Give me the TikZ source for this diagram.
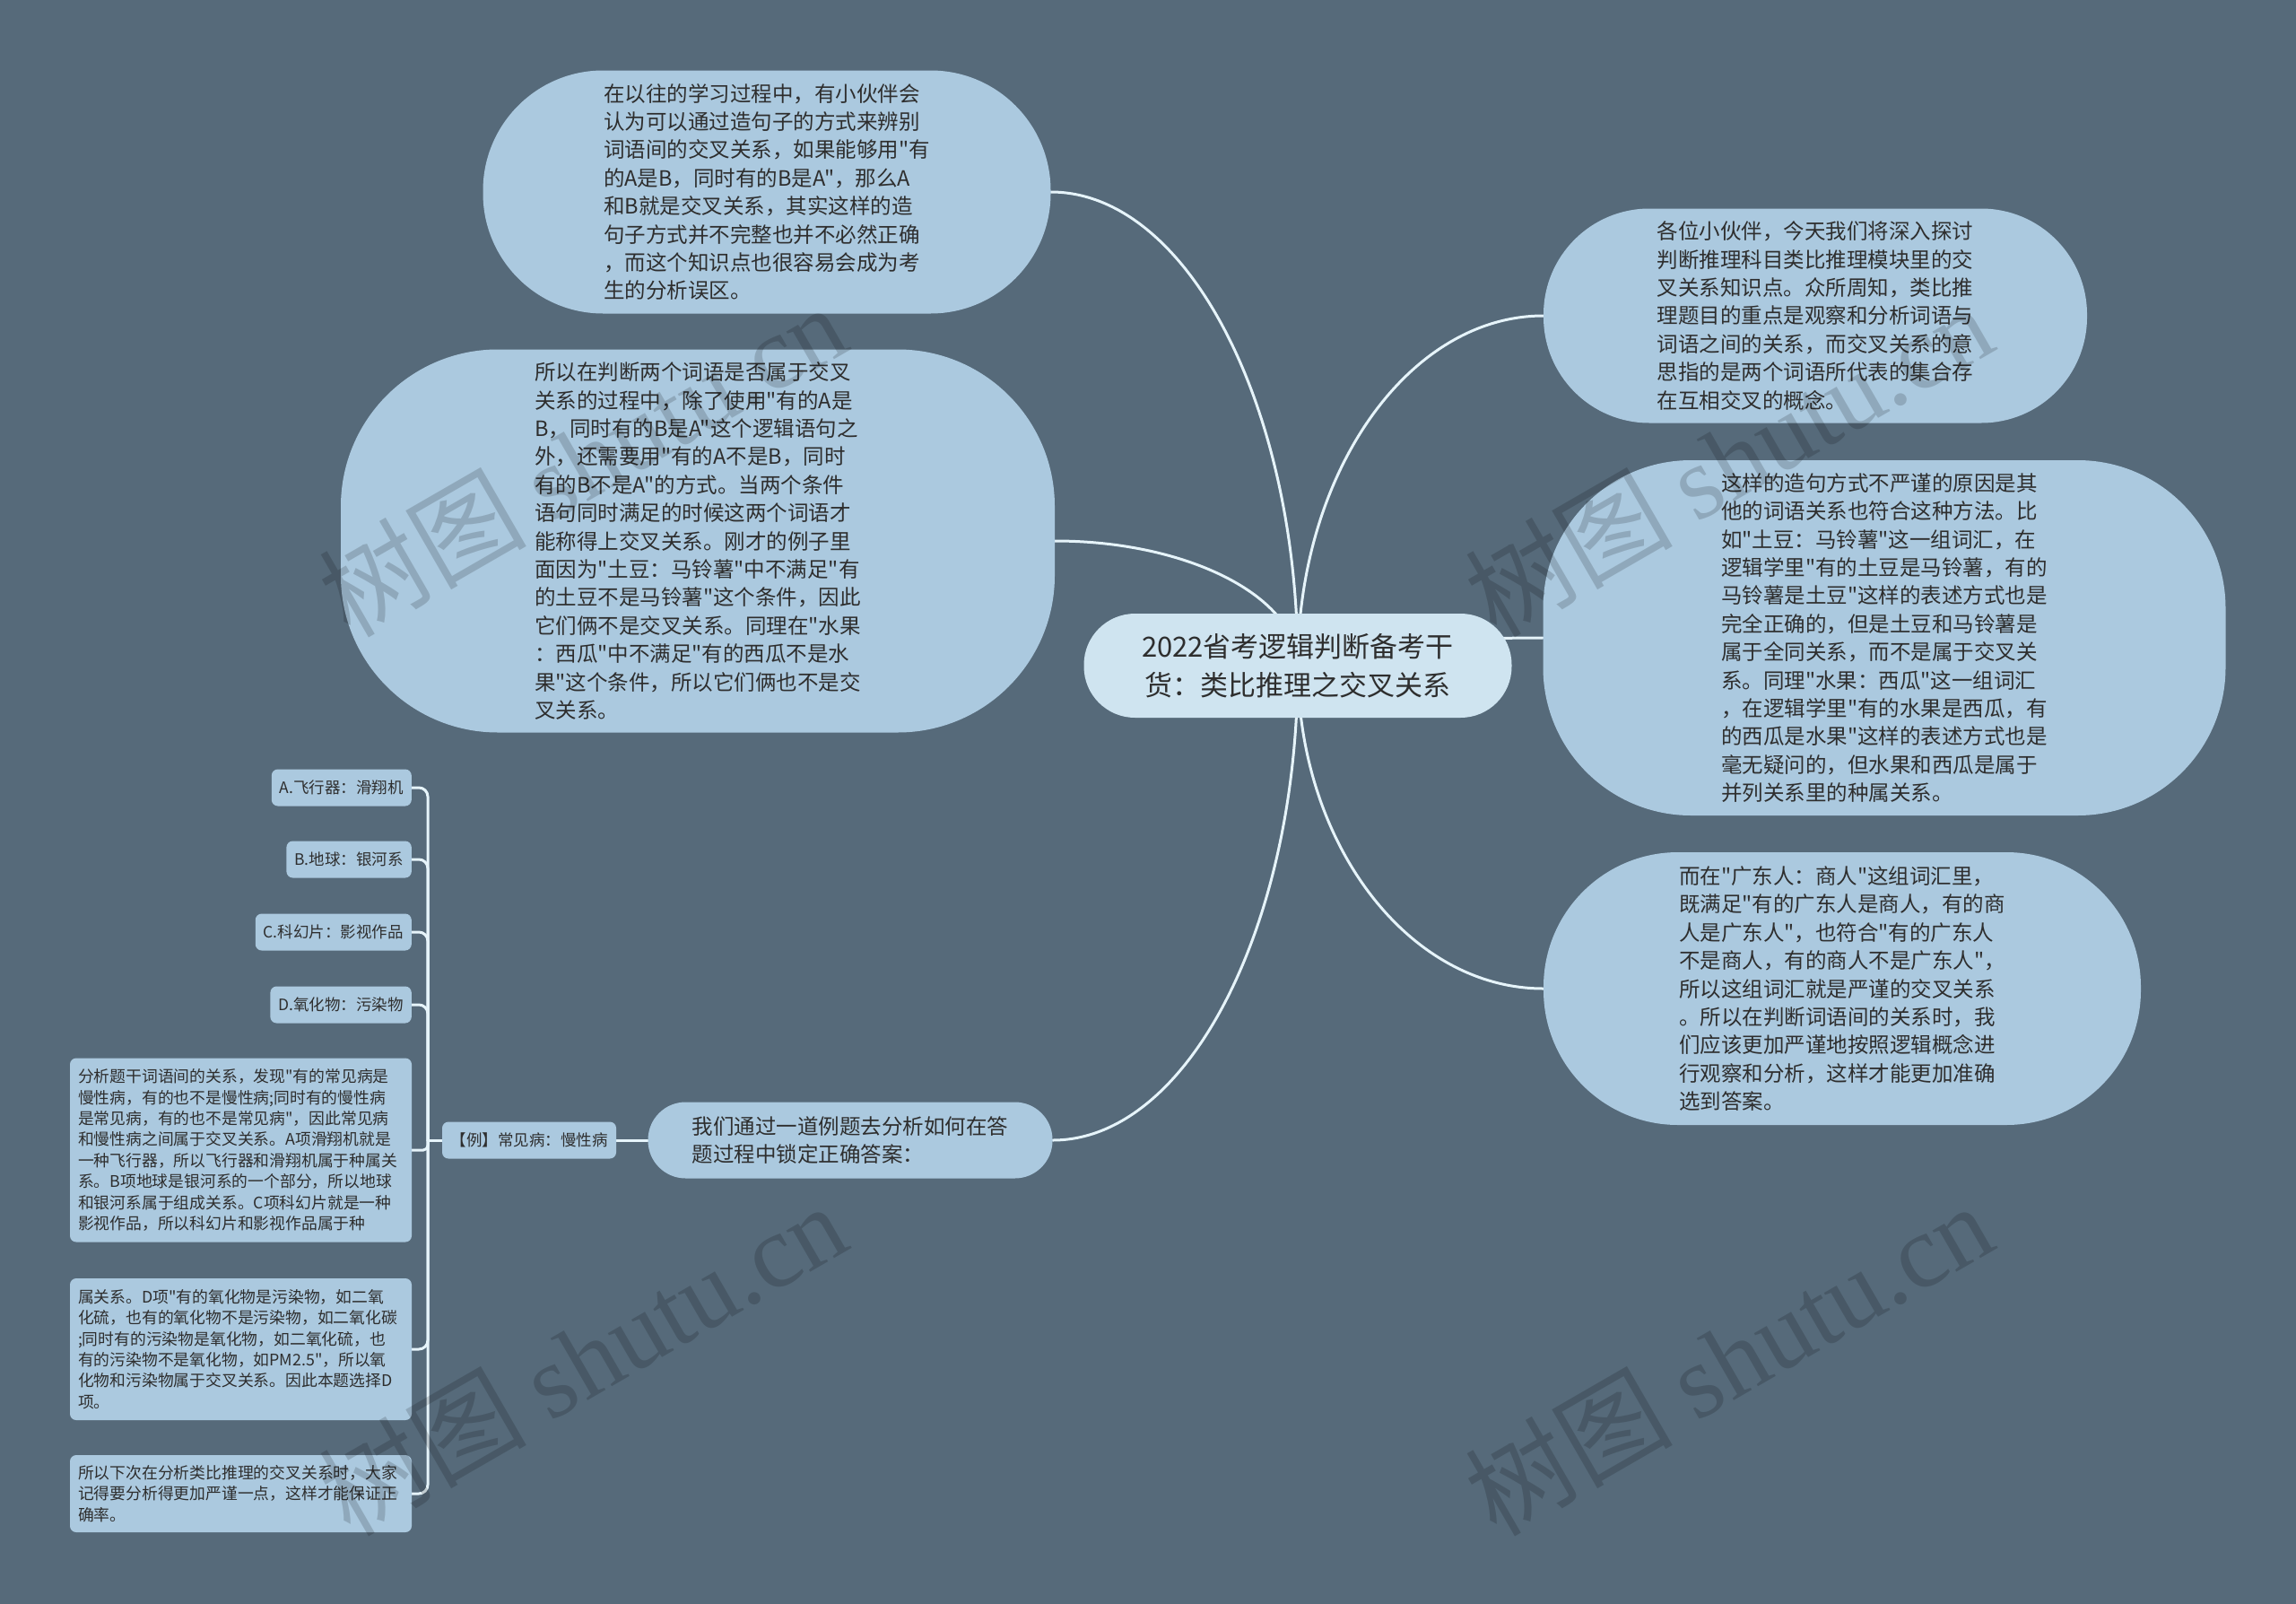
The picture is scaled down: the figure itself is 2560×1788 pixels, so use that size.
\documentclass[tikz,border=0pt]{standalone}
\usepackage{fontspec}
\newfontfamily\cjkfont{Noto Sans CJK SC}
\setmainfont{Noto Sans CJK SC}
\newfontfamily\wmlatin{Liberation Serif}
\usetikzlibrary{calc}
\pgfdeclarelayer{bglayer}
\pgfdeclarelayer{links}
\pgfdeclarelayer{wm}
\pgfsetlayers{bglayer,links,main,wm}
\definecolor{bgcol}{HTML}{566A7A}
\definecolor{nodecol}{HTML}{ABC9DF}
\definecolor{rootcol}{HTML}{CFE4F0}
\definecolor{txtcol}{HTML}{2E2E2E}
\definecolor{linkcol}{HTML}{E6F4FA}
\newcommand\mmlink[2]{\draw[link] (#1.center) .. controls ($(#1.center)!0.55!(#1.center |- #2)$) and ($(#2)!0.55!(#1.center |- #2)$) .. (#2);}
\tikzset{
  bubble/.style={fill=nodecol, draw=none, text=txtcol, align=left, inner sep=0pt,
    font=\cjkfont\fontsize{23.5}{31.4}\selectfont},
  rootbox/.style={fill=rootcol, draw=none, text=txtcol, align=center, inner sep=0pt,
    font=\cjkfont\fontsize{31}{43}\selectfont},
  leafbox/.style={fill=nodecol, draw=none, text=txtcol, rounded corners=7, inner xsep=9pt,
    inner ysep=0pt, minimum height=41, font=\cjkfont\fontsize{17.5}{22}\selectfont},
  notebox/.style={fill=nodecol, draw=none, text=txtcol, rounded corners=7, inner xsep=9pt,
    inner ysep=0pt, minimum width=381, text width=363, align=left,
    font=\cjkfont\fontsize{17.8}{23.4}\selectfont},
  link/.style={draw=linkcol, line width=3pt, line cap=round},
  wmark/.style={text=black, opacity=0.16, rotate=30, inner sep=0pt,
    font=\cjkfont\fontsize{116}{120}\selectfont}
}
\begin{document}
\begin{tikzpicture}[x=1pt,y=-1pt]
\begin{pgfonlayer}{bglayer}
\fill[bgcol] (0,0) rectangle (2560,1788);
\end{pgfonlayer}
\useasboundingbox (0,0) rectangle (2560,1788);

% root
\node[rootbox, minimum width=477, minimum height=116, rounded corners=57] (root) at (1447,742)
  {2022省考逻辑判断备考干\\货：类比推理之交叉关系};

% bubbles
\node[bubble, minimum width=633, minimum height=271, rounded corners=134] (n1) at (855,214)
  {在以往的学习过程中，有小伙伴会\\认为可以通过造句子的方式来辨别\\词语间的交叉关系，如果能够用"有\\的A是B，同时有的B是A"，那么A\\和B就是交叉关系，其实这样的造\\句子方式并不完整也并不必然正确\\，而这个知识点也很容易会成为考\\生的分析误区。};

\node[bubble, minimum width=796, minimum height=427, rounded corners=175] (n2) at (778,603)
  {所以在判断两个词语是否属于交叉\\关系的过程中，除了使用"有的A是\\B，同时有的B是A"这个逻辑语句之\\外，还需要用"有的A不是B，同时\\有的B不是A"的方式。当两个条件\\语句同时满足的时候这两个词语才\\能称得上交叉关系。刚才的例子里\\面因为"土豆：马铃薯"中不满足"有\\的土豆不是马铃薯"这个条件，因此\\它们俩不是交叉关系。同理在"水果\\：西瓜"中不满足"有的西瓜不是水\\果"这个条件，所以它们俩也不是交\\叉关系。};

\node[bubble, minimum width=606, minimum height=239, rounded corners=118] (n3) at (2024,352)
  {各位小伙伴，今天我们将深入探讨\\判断推理科目类比推理模块里的交\\叉关系知识点。众所周知，类比推\\理题目的重点是观察和分析词语与\\词语之间的关系，而交叉关系的意\\思指的是两个词语所代表的集合存\\在互相交叉的概念。};

\node[bubble, minimum width=761, minimum height=396, rounded corners=165] (n4) at (2101,711)
  {这样的造句方式不严谨的原因是其\\他的词语关系也符合这种方法。比\\如"土豆：马铃薯"这一组词汇，在\\逻辑学里"有的土豆是马铃薯，有的\\马铃薯是土豆"这样的表述方式也是\\完全正确的，但是土豆和马铃薯是\\属于全同关系，而不是属于交叉关\\系。同理"水果：西瓜"这一组词汇\\，在逻辑学里"有的水果是西瓜，有\\的西瓜是水果"这样的表述方式也是\\毫无疑问的，但水果和西瓜是属于\\并列关系里的种属关系。};

\node[bubble, minimum width=666, minimum height=304, rounded corners=150] (n5) at (2054,1102)
  {而在"广东人：商人"这组词汇里，\\既满足"有的广东人是商人，有的商\\人是广东人"，也符合"有的广东人\\不是商人，有的商人不是广东人"，\\所以这组词汇就是严谨的交叉关系\\。所以在判断词语间的关系时，我\\们应该更加严谨地按照逻辑概念进\\行观察和分析，这样才能更加准确\\选到答案。};

\node[bubble, minimum width=451, minimum height=85, rounded corners=42] (n6) at (948,1271)
  {我们通过一道例题去分析如何在答\\题过程中锁定正确答案：};

% example subtree
\node[leafbox, minimum width=194] (n7) at (590,1271) {【例】常见病：慢性病};
\coordinate (hub) at (477,1271);

\node[leafbox, anchor=east] (la) at (459,878) {A.飞行器：滑翔机};
\node[leafbox, anchor=east] (lb) at (459,958) {B.地球：银河系};
\node[leafbox, anchor=east] (lc) at (459,1039) {C.科幻片：影视作品};
\node[leafbox, anchor=east] (ld) at (459,1120) {D.氧化物：污染物};

\node[notebox, minimum height=205] (le) at (268.5,1282)
  {分析题干词语间的关系，发现"有的常见病是\\慢性病，有的也不是慢性病;同时有的慢性病\\是常见病，有的也不是常见病"，因此常见病\\和慢性病之间属于交叉关系。A项滑翔机就是\\一种飞行器，所以飞行器和滑翔机属于种属关\\系。B项地球是银河系的一个部分，所以地球\\和银河系属于组成关系。C项科幻片就是一种\\影视作品，所以科幻片和影视作品属于种};
\node[notebox, minimum height=158] (lf) at (268.5,1504)
  {属关系。D项"有的氧化物是污染物，如二氧\\化硫，也有的氧化物不是污染物，如二氧化碳\\;同时有的污染物是氧化物，如二氧化硫，也\\有的污染物不是氧化物，如PM2.5"，所以氧\\化物和污染物属于交叉关系。因此本题选择D\\项。};
\node[notebox, minimum height=86] (lg) at (268.5,1665)
  {所以下次在分析类比推理的交叉关系时，大家\\记得要分析得更加严谨一点，这样才能保证正\\确率。};

% connectors
\begin{pgfonlayer}{links}
\mmlink{root}{n1.east}
\mmlink{root}{n2.east}
\mmlink{root}{n3.west}
\mmlink{root}{n4.west}
\mmlink{root}{n5.west}
\mmlink{root}{n6.east}
\draw[link] (n6.west) -- (n7.east);
\draw[link] (n7.west) -- (hub);
\foreach \n in {la,lb,lc,ld,lf,lg} {\draw[link, rounded corners=10] (\n.east) -| (hub);}
\draw[link, rounded corners=5] (le.east) -| (hub);
\end{pgfonlayer}

% watermarks
\begin{pgfonlayer}{wm}
\node[wmark] (w1) at (649,512) {树图 {\wmlatin shutu.cn}};
\node[wmark] (w2) at (1927,512) {树图 {\wmlatin shutu.cn}};
\node[wmark] (w3) at (649,1514) {树图 {\wmlatin shutu.cn}};
\node[wmark] (w4) at (1927,1514) {树图 {\wmlatin shutu.cn}};
\end{pgfonlayer}
\end{tikzpicture}
\end{document}
